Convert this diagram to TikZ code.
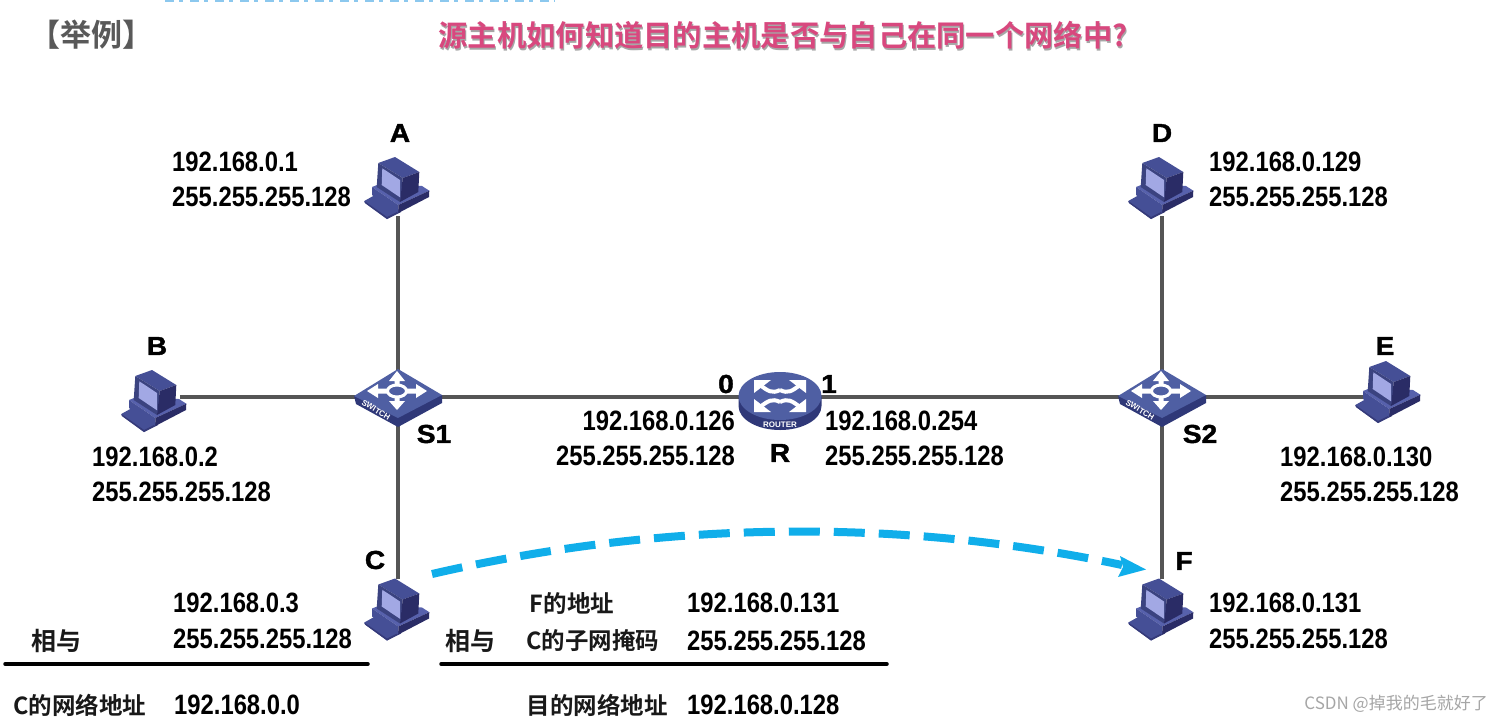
\documentclass[tikz,border=0pt]{standalone}
\usepackage{fontspec}
\setmainfont{Liberation Sans}
\newfontfamily\ipfont[FakeStretch=0.85]{Liberation Sans Bold}
\newfontfamily\labfont[FakeBold=1.5,FakeStretch=1.08]{Liberation Sans Bold}
\newfontfamily\iconfont{Liberation Sans Bold}
\newfontfamily\cjk{Noto Sans CJK SC Bold}
\newfontfamily\cjkreg{Noto Sans CJK SC}
\usetikzlibrary{arrows.meta}
\definecolor{linegray}{HTML}{555555}
\definecolor{pcmid}{HTML}{454F96}
\definecolor{pcdark}{HTML}{2A2C66}
\definecolor{pclight}{HTML}{5761AC}
\definecolor{pcscreen}{HTML}{A2A8E4}
\definecolor{swtop}{HTML}{4F5FA3}
\definecolor{swside}{HTML}{2F3878}
\definecolor{flowblue}{HTML}{10AEEA}
\definecolor{titlepink}{HTML}{D8487E}
\definecolor{topsliver}{HTML}{8CC8EE}
\tikzset{
  ip/.style={anchor=west,inner sep=0pt,font=\ipfont\fontsize{28}{28}\selectfont,text=black},
  ipr/.style={ip,anchor=east},
  lab/.style={inner sep=0pt,font=\labfont\fontsize{26}{26}\selectfont,text=black},
  cn/.style={inner sep=0pt,font=\cjk\fontsize{23.5}{23.5}\selectfont,text=black!90},
  hostbox/.style={minimum width=50pt,minimum height=58pt,inner sep=0pt},
  netbox/.style={minimum width=4pt,minimum height=4pt,inner sep=0pt},
  wire/.style={draw=linegray,line width=4pt},
  rule/.style={draw=black,line width=3.5pt,line cap=round},
  computer/.pic={
    \fill[pcmid] (-33.7,-15)--(-23,-21)--(3,-5)--(-11,3)--(-33,-13)--cycle;
    \fill[pcdark!60!pcmid] (-33.7,-15)--(-11,1)--(3,-6)--(3,-4)--(-11,3)--(-33,-13)--cycle;
    \fill[pclight] (-26,-29)--(-21,-31)--(24,-30)--(31.3,-25.3)--(0.3,-11)--cycle;
    \fill[pcmid] (-26,-29)--(0.3,-11)--(0.3,-3)--(-26,-21)--cycle;
    \fill[pcdark] (0.3,-11)--(31.3,-25.3)--(31,-19)--(0.3,-3)--cycle;
    \fill[pcmid] (-19.7,-53)--(-3,-59)--(21.3,-44)--(4.7,-38)--cycle;
    \fill[pcmid!85!black] (-19.7,-53)--(4.7,-38)--(2,-14)--(-21.3,-29)--cycle;
    \fill[pcdark] (4.7,-38)--(21.3,-44)--(20.3,-24)--(2,-14)--cycle;
    \fill[pcscreen] (-15.7,-47.7)--(2,-36)--(2,-18.7)--(-16.3,-31)--cycle;
  },
  switchicon/.pic={
    \fill[swside] (-44,-1)--(-42,7)--(0,30)--(44,6)--(44,-2)--cycle;
    \fill[swtop] (0,-28)--(44,-2)--(0,21)--(-44,-1)--cycle;
    \draw[white,line width=3pt] (-1,-6) ellipse (9.5 and 6);
    \fill[white] (-1,-26)--(7,-16)--(1.5,-16)--(1.5,-11)--(-3.5,-11)--(-3.5,-16)--(-9,-16)--cycle;
    \fill[white] (-1,13)--(7,4)--(1.5,4)--(1.5,-1)--(-3.5,-1)--(-3.5,4)--(-9,4)--cycle;
    \fill[white] (-31,-6)--(-20,-13)--(-20,-8.5)--(-10,-8.5)--(-10,-3.5)--(-20,-3.5)--(-20,1)--cycle;
    \fill[white] (29,-6)--(18,-13)--(18,-8.5)--(8,-8.5)--(8,-3.5)--(18,-3.5)--(18,1)--cycle;
    \node[rotate=-31,text=white,inner sep=0pt,font=\iconfont\fontsize{8}{8}\selectfont] at (-22,13) {SWITCH};
  },
  routericon/.pic={
    \fill[swside] (-41.5,0) -- (-41.5,10) arc[start angle=180,end angle=0,x radius=41.5,y radius=24] -- (41.5,0) -- cycle;
    \fill[swtop] (0,0) ellipse (41.5 and 24);
    \foreach \sx in {-1,1}{
      \foreach \sy in {-1,1}{
        \fill[white] (\sx*26,\sy*16)--(\sx*9,\sy*16)--(\sx*26,\sy*3)--cycle;
        \draw[white,line width=4pt] (\sx*20,\sy*11) .. controls (\sx*12,\sy*5) and (\sx*8,\sy*2) .. (0,\sy*6);
      }
    }
    \node[text=white,inner sep=0pt,font=\iconfont\fontsize{8}{8}\selectfont] at (0,29) {ROUTER};
  }
}
\begin{document}
\begin{tikzpicture}[x=1pt,y=-1pt]
\useasboundingbox (0,0) rectangle (1501,723);
\fill[white] (0,0) rectangle (1501,723);
% cut-off strip along the top edge
\draw[topsliver,line width=2pt,dash pattern=on 9pt off 5pt on 4pt off 7pt] (165,0.8) -- (555,0.8);
% network nodes
\node[hostbox] (A) at (398,187) {};
\node[hostbox] (B) at (155,397) {};
\node[hostbox] (C) at (398,608) {};
\node[hostbox] (D) at (1162,187) {};
\node[hostbox] (E) at (1389,397) {};
\node[hostbox] (F) at (1162,608) {};
\node[netbox] (S1) at (398,397) {};
\node[netbox] (S2) at (1162,397) {};
\node[netbox] (R) at (780,397) {};
% wires
\draw[wire] (A) -- (S1);
\draw[wire] (C) -- (S1);
\draw[wire] (B) -- (S1);
\draw[wire] (S1) -- (R);
\draw[wire] (R) -- (S2);
\draw[wire] (D) -- (S2);
\draw[wire] (F) -- (S2);
\draw[wire] (E) -- (S2);
% icons
\pic at (398,216) {computer};
\pic at (155,429) {computer};
\pic at (398,637.5) {computer};
\pic at (1162,216) {computer};
\pic at (1389,420) {computer};
\pic at (1162,637.5) {computer};
\pic at (398,397) {switchicon};
\pic at (1162,397) {switchicon};
\pic at (780,396) {routericon};
% device labels
\node[lab] (la) at (400,133) {A};
\node[lab] (lb) at (157,346) {B};
\node[lab] (lc) at (375,560) {C};
\node[lab] (ld) at (1162,133) {D};
\node[lab] (le) at (1385,346) {E};
\node[lab] (lf) at (1184,561) {F};
\node[lab] (ls1) at (434,434) {S1};
\node[lab] (ls2) at (1200,434) {S2};
\node[lab] (lr) at (780,453) {R};
\node[lab] (l0) at (726,384) {0};
\node[lab] (l1) at (829,384) {1};
% addresses
\node[ip] (a1) at (172,162) {192.168.0.1};
\node[ip] (a2) at (172,197) {255.255.255.128};
\node[ip] (d1) at (1209,162) {192.168.0.129};
\node[ip] (d2) at (1209,197) {255.255.255.128};
\node[ip] (b1) at (92,457) {192.168.0.2};
\node[ip] (b2) at (92,492) {255.255.255.128};
\node[ip] (e1) at (1280,457) {192.168.0.130};
\node[ip] (e2) at (1280,492) {255.255.255.128};
\node[ipr] (r1) at (735,421) {192.168.0.126};
\node[ipr] (r2) at (735,456) {255.255.255.128};
\node[ip] (r3) at (825,421) {192.168.0.254};
\node[ip] (r4) at (825,456) {255.255.255.128};
\node[ip] (c1) at (173,603) {192.168.0.3};
\node[ip] (c2) at (173,639) {255.255.255.128};
\node[ip] (f1) at (1209,603) {192.168.0.131};
\node[ip] (f2) at (1209,639) {255.255.255.128};
% calculation
\node[cn,font=\cjk\fontsize{25}{25}\selectfont] (t1) at (56,641) {相与};
\coordinate (u1) at (5,664);
\coordinate (u2) at (368,664);
\draw[rule] (u1) -- (u2);
\node[cn] (t2) at (80,705) {C的网络地址};
\node[ip] (c3) at (174,705) {192.168.0.0};
\node[cn] (t3) at (572,603) {F的地址};
\node[ip] (f3) at (687,603) {192.168.0.131};
\node[cn,font=\cjk\fontsize{25}{25}\selectfont] (t4) at (470,641) {相与};
\node[cn] (t5) at (593,641) {C的子网掩码};
\node[ip] (f4) at (687,641) {255.255.255.128};
\coordinate (u3) at (441,664);
\coordinate (u4) at (887,664);
\draw[rule] (u3) -- (u4);
\node[cn] (t6) at (597,705) {目的网络地址};
\node[ip] (f5) at (687,705) {192.168.0.128};
% flow arrow
\coordinate (p1) at (432,574);
\coordinate (p2) at (1122,565);
\draw[flowblue,line width=8pt,dash pattern=on 31pt off 14pt] (p1) .. controls (670,519) and (905,519) .. (p2);
\fill[flowblue] (1146,569.5)--(1118,577)--(1123,567)--(1120,556)--cycle;
% titles
\node[inner sep=0pt,font=\cjk\fontsize{31}{31}\selectfont,text=black!65] (ex) at (91,35) {【举例】};
\node[inner sep=0pt,font=\cjk\fontsize{29.3}{29.3}\selectfont,text=black!35] at (784,37) {源主机如何知道目的主机是否与自己在同一个网络中?};
\node[inner sep=0pt,font=\cjk\fontsize{29.3}{29.3}\selectfont,text=titlepink] (title) at (783,35) {源主机如何知道目的主机是否与自己在同一个网络中?};
\node[anchor=east,inner sep=0pt,font=\cjkreg\fontsize{17}{17}\selectfont,text=black!35] (wm) at (1488,704) {CSDN @掉我的毛就好了};
\end{tikzpicture}
\end{document}
